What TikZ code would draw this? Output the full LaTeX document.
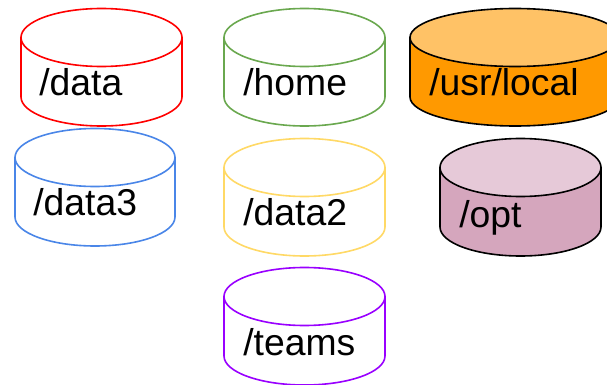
\documentclass[tikz,border=0pt]{standalone}
\usepackage{fontspec}
\setmainfont{Liberation Sans}
\definecolor{diskred}{HTML}{FF0000}
\definecolor{diskgreen}{HTML}{6AA84F}
\definecolor{diskorange}{HTML}{FF9900}
\definecolor{disktop}{HTML}{FFC266}
\definecolor{diskblue}{HTML}{4A86E8}
\definecolor{diskyellow}{HTML}{FFD966}
\definecolor{diskpink}{HTML}{D5A6BD}
\definecolor{disklight}{HTML}{E6C9D8}
\definecolor{diskviolet}{HTML}{9900FF}
\newcommand{\disk}[6]{%
\filldraw[draw=#4,fill=#5,line width=1.2pt] (#1,#2+29.5) -- (#1,#2+89) arc[start angle=180,end angle=0,x radius=#3,y radius=29] -- (#1+2*#3,#2+29.5) -- cycle;
\filldraw[draw=#4,fill=#6,line width=1.2pt] (#1+#3,#2+29.5) ellipse[x radius=#3,y radius=29];
}
\begin{document}
\begin{tikzpicture}[x=0.75pt,y=-0.75pt]
\tikzset{disklabel/.style={font=\fontsize{28}{32}\selectfont,anchor=base west,inner sep=0pt}}
\clip (0,0) rectangle (607,385);
\disk{21}{8}{80.5}{diskred}{white}{white}
\disk{224}{8}{80.5}{diskgreen}{white}{white}
\disk{410}{8}{105}{black}{diskorange}{disktop}
\disk{15}{128}{80}{diskblue}{white}{white}
\disk{224}{138}{80.5}{diskyellow}{white}{white}
\disk{440}{138}{80.5}{black}{diskpink}{disklight}
\disk{224}{267}{80.5}{diskviolet}{white}{white}
\node[disklabel] (data) at (39,96) {/data};
\node[disklabel] (home) at (243,96) {/home};
\node[disklabel] (usrlocal) at (429,95) {/usr/local};
\node[disklabel] (dataiii) at (33,215) {/data3};
\node[disklabel] (dataii) at (243,225) {/data2};
\node[disklabel] (opt) at (459,227) {/opt};
\node[disklabel] (teams) at (243,355) {/teams};
\end{tikzpicture}
\end{document}
